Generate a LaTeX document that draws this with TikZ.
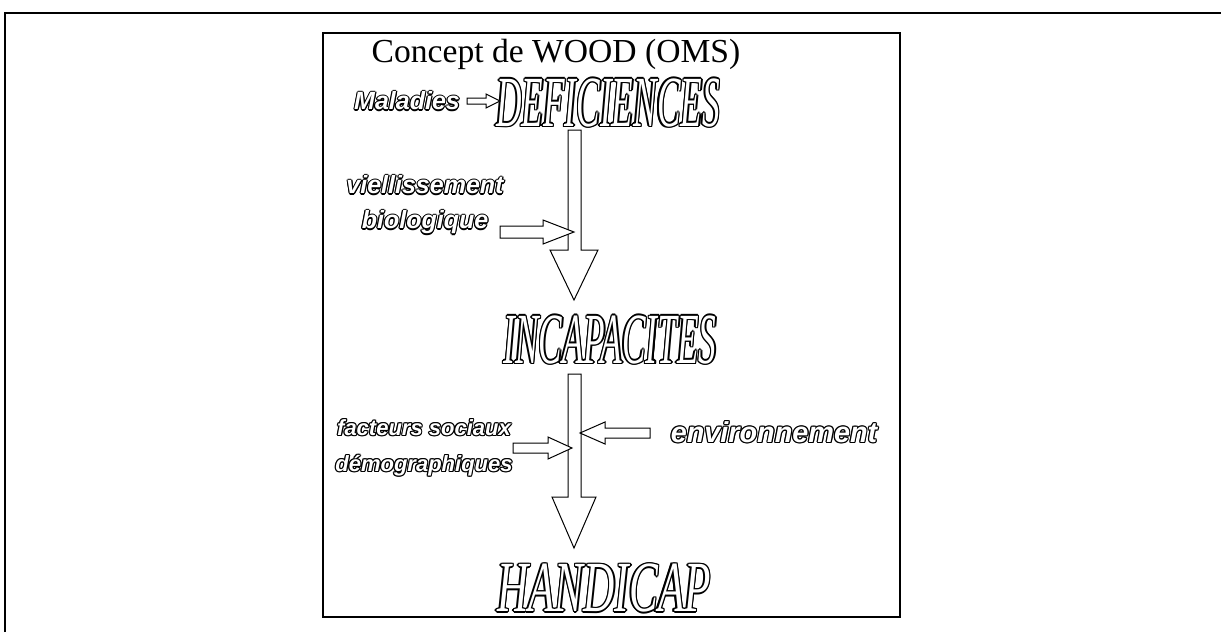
\documentclass[tikz,border=0pt]{standalone}
\usepackage{fontspec}
\setmainfont{Liberation Serif}
\newfontfamily\bigw[FakeStretch=0.49]{Liberation Serif Italic}
\newfontfamily\bigwh[FakeStretch=0.6]{Liberation Serif Italic}
\newfontfamily\lab{Liberation Sans Bold Italic}
\newlength\olw
\setlength\olw{0.6pt}
\newcommand\hollow[1]{\leavevmode
 \rlap{\hspace*{\olw}#1}\rlap{\hspace*{-\olw}#1}%
 \rlap{\raisebox{\olw}{#1}}\rlap{\raisebox{-\olw}{#1}}%
 \rlap{\hspace*{.7\olw}\raisebox{.7\olw}{#1}}\rlap{\hspace*{-.7\olw}\raisebox{.7\olw}{#1}}%
 \rlap{\hspace*{.7\olw}\raisebox{-.7\olw}{#1}}\rlap{\hspace*{-.7\olw}\raisebox{-.7\olw}{#1}}%
 {\color{white}#1}}
\tikzset{
  frame/.style={draw=black, line width=0.6pt},
  big/.style={inner sep=0pt, font=\bigw\fontsize{36}{36}\selectfont\setlength\olw{0.75pt}},
  lbl/.style={inner sep=0pt, align=center, font=\lab\fontsize{12.5}{20}\selectfont},
  hol/.style={draw=black, fill=white, line width=0.5pt, line join=miter},
}
\begin{document}
\begin{tikzpicture}[x=0.5pt, y=-0.5pt]
\useasboundingbox (0,0) rectangle (1221,632);
% outer frame
\draw[frame] (5,632) -- (5,13) -- (1221,13);
% inner box
\draw[frame] (323,33) rectangle (900,617);
\node[anchor=base, inner sep=0pt, font=\fontsize{16.8}{16.8}\selectfont] (title) at (556,62) {Concept de WOOD (OMS)};
% main words
\node[big] (def) at (608,103) {\hollow{DEFICIENCES}};
\node[big] (inc) at (610,340) {\hollow{INCAPACITES}};
\node[big, font=\bigwh\fontsize{36}{36}\selectfont\setlength\olw{0.75pt}] (han) at (604,588) {\hollow{HANDICAP}};
% side labels
\node[lbl] (mal) at (407,101) {\hollow{Maladies}};
\node[lbl, font=\lab\fontsize{12.5}{17.5}\selectfont] (vie) at (425,205) {\hollow{viellissement}\\\hollow{biologique}};
\node[lbl, font=\lab\fontsize{11}{18}\selectfont] (fac) at (424,448) {\hollow{facteurs sociaux}\\\hollow{démographiques}};
\node[lbl, font=\lab\fontsize{14.4}{14.4}\selectfont] (env) at (774,432) {\hollow{environnement}};
% arrow maladies -> deficiences
\draw[hol] (467,98) -- (486,98) -- (486,94) -- (500,101) -- (486,108) -- (486,104) -- (467,104) -- cycle;
% vertical arrow 1
\draw[hol] (568,130) -- (581,130) -- (581,250) -- (598,250) -- (574,300) -- (550,250) -- (568,250) -- cycle;
% arrow viellissement
\draw[hol] (500,226) -- (543,226) -- (543,220) -- (574,232) -- (543,244) -- (543,238) -- (500,238) -- cycle;
% vertical arrow 2
\draw[hol] (568,374) -- (581,374) -- (581,497) -- (596,497) -- (574,548) -- (552,497) -- (568,497) -- cycle;
% arrow facteurs
\draw[hol] (513,443) -- (548,443) -- (548,437) -- (572,448) -- (548,459) -- (548,453) -- (513,453) -- cycle;
% arrow environnement
\draw[hol] (650,428) -- (605,428) -- (605,422) -- (580,433) -- (605,444) -- (605,438) -- (650,438) -- cycle;
\end{tikzpicture}
\end{document}
